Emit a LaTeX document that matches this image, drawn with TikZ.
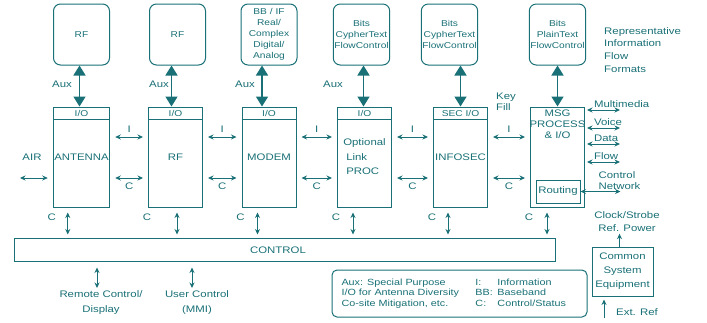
\documentclass[tikz,border=0pt]{standalone}
\usepackage{fontspec}
\setmainfont[FakeStretch=1.2]{Liberation Sans}
\usetikzlibrary{arrows.meta,positioning}
\definecolor{ink}{RGB}{25,112,118}

\begin{document}
\begin{tikzpicture}[
  x=1pt, y=-1pt,
  every node/.style={text=ink, font=\fontsize{9.5}{11}\selectfont},
  fmt/.style={rectangle, rounded corners=7pt, draw=ink, line width=1pt,
    minimum width=56pt, minimum height=61pt, align=center, inner sep=1pt,
    font=\fontsize{8.5}{11}\selectfont},
  blk/.style={rectangle, draw=ink, line width=1pt,
    minimum width=54pt, minimum height=100pt, align=center, inner sep=1pt},
  box/.style={rectangle, draw=ink, line width=1pt, align=center, inner sep=1pt},
  bigarr/.style={{Triangle[length=10pt,width=12pt]}-{Triangle[length=10pt,width=12pt]},
    line width=1.6pt, draw=ink},
  harr/.style={{Stealth[length=5.5pt,width=5pt]}-{Stealth[length=5.5pt,width=5pt]},
    draw=ink, line width=0.8pt, shorten <=5pt, shorten >=5pt},
  varr/.style={harr, shorten <=5pt, shorten >=3pt},
  uparr/.style={-{Stealth[length=5.5pt,width=5pt]}, draw=ink, line width=0.8pt},
  lbl/.style={inner sep=1pt}
]
\useasboundingbox (0,0) rectangle (707,322);

% Processing chain
\node[blk] (b1) at (81.5,157) {ANTENNA};
\node[blk] (b2) at (175.5,157) {RF};
\node[blk] (b3) at (269,157) {MODEM};
\node[blk, align=left, font=\fontsize{9.5}{14.5}\selectfont] (b4) at (364.5,157)
  {Optional\\\hspace*{3pt}Link\\\hspace*{3pt}PROC};
\node[blk] (b5) at (460.5,157) {INFOSEC};
\node[blk] (b6) at (557.5,157) {};
\node[lbl, anchor=north, align=center] (msg) at ([yshift=-2pt]b6.north) {MSG\\PROCESS\\\& I/O};
\node[box, minimum width=44pt, minimum height=23pt, inner sep=0pt] (rt) at (558,191.5) {Routing};

% I/O header strips
\foreach \b in {b1,b2,b3,b4,b5}
  \draw[draw=ink, line width=1pt] ([yshift=-13pt]\b.north west) -- ([yshift=-13pt]\b.north east);
\foreach \b in {b1,b2,b3,b4}
  \node[lbl, font=\fontsize{8.5}{9}\selectfont] (\b io) at ([yshift=-6.5pt]\b.north) {I/O};
\node[lbl, font=\fontsize{8.5}{9}\selectfont] (b5io) at ([yshift=-6.5pt]b5.north) {SEC I/O};

% Information flow formats
\node[fmt, above=41pt of b1] (f1) {RF};
\node[fmt, above=41pt of b2, xshift=2pt] (f2) {RF};
\node[fmt, above=41pt of b3] (f3) {BB / IF\\Real/\\Complex\\Digital/\\Analog};
\node[fmt, above=41pt of b4, xshift=-3pt] (f4) {Bits\\CypherText\\FlowControl};
\node[fmt, above=41pt of b5, xshift=-11pt] (f5) {Bits\\CypherText\\FlowControl};
\node[fmt, above=41pt of b6] (f6) {Bits\\PlainText\\FlowControl};

\foreach \n/\d in {1/-2,2/-4,3/-7,4/-1,5/0,6/0}
  \draw[bigarr] ([xshift=\d pt]b\n.north |- f\n.south) -- ([xshift=\d pt]b\n.north);

\node[lbl] (aux1) at (62,84) {Aux};
\node[lbl] (aux2) at (159,84) {Aux};
\node[lbl] (aux3) at (245,84) {Aux};
\node[lbl] (aux4) at (333,84) {Aux};

\node[lbl, anchor=north west, align=left, font=\fontsize{9.5}{12.7}\selectfont] (rep) at (603,26)
  {Representative\\Information\\Flow\\Formats};

% I and C links between blocks
\foreach \a/\b in {b1/b2,b2/b3,b3/b4,b4/b5,b5/b6} {
  \draw[harr] ([yshift=20pt]\a.east) -- node[lbl, above=3pt] (i\a) {I} ([yshift=20pt]\b.west);
  \draw[harr] ([yshift=-21pt]\a.east) -- node[lbl, below=3pt] (c\a) {C} ([yshift=-21pt]\b.west);
}
\node[lbl, anchor=west, align=left] (key) at (495,102) {Key\\Fill};

\coordinate (air) at (20,178);
\draw[harr, shorten <=0pt] (air) -- ([yshift=-21pt]b1.west);
\node[lbl] (airlbl) at (32,157) {AIR};

% MSG outputs
\foreach \dy/\t in {47/Multimedia,29/Voice,13/Data,-5/Flow}
  \draw[harr, shorten <=2pt, shorten >=0pt] ([yshift=\dy pt]b6.east) -- node[lbl, pos=0.2, above right=1pt] (o\t) {\t} ++(35pt,0);
\draw[harr, shorten <=0pt, shorten >=0pt] (rt.east) -- node[lbl, pos=0.4, above right=1pt, align=left] (onet) {Control\\Network} ++(40pt,0);

% Control bus
\node[box, minimum width=541pt, minimum height=23pt] (ctrl) at (284.5,249.5) {};
\node[lbl] (ctrltxt) at (278,250) {CONTROL};

\foreach \n/\d in {1/15,2/29,3/16,4/16,5/15,6/17} {
  \draw[varr] ([xshift=\d pt]b\n.south west) -- ([xshift=\d pt]b\n.south west |- ctrl.north);
  \node[lbl] (cc\n) at ([shift={(-1pt,-10pt)}]b\n.south west) {C};
}

\coordinate (rc) at (97,288);
\coordinate (uc) at (192,288);
\draw[harr, shorten <=6pt, shorten >=0pt] (rc |- ctrl.south) -- (rc);
\draw[harr, shorten <=6pt, shorten >=0pt] (uc |- ctrl.south) -- (uc);
\node[lbl, below=1pt of rc, xshift=4pt, align=center, font=\fontsize{9.5}{15}\selectfont] (rclbl) {Remote Control/\\Display};
\node[lbl, below=1pt of uc, xshift=5pt, align=center, font=\fontsize{9.5}{15}\selectfont] (uclbl) {User Control\\(MMI)};

% Legend
\node[box, rounded corners=5pt, minimum width=255pt, minimum height=47pt, font=\fontsize{9}{10.5}\selectfont] (legend) at (459.5,293.5)
  {\begin{tabular}{@{}p{134pt}@{}p{22pt}@{}p{80pt}@{}}
   Aux: Special Purpose & I: & Information\\
   I/O for Antenna Diversity & BB: & Baseband\\
   Co-site Mitigation, etc. & C: & Control/Status
   \end{tabular}};

% Common equipment
\node[box, minimum width=61pt, minimum height=49pt, font=\fontsize{9.5}{14}\selectfont] (cse) at (622.5,271.5) {Common\\System\\Equipment};
\node[lbl, align=center, font=\fontsize{9.5}{13}\selectfont] (clk) at (627,221.5) {Clock/Strobe\\Ref. Power};
\draw[uparr, shorten >=1pt] ([xshift=-3pt]cse.north) -- ([xshift=-3pt]cse.north |- clk.south);
\coordinate (ext) at (604,318);
\draw[uparr, shorten >=3pt] (ext) -- (ext |- cse.south);
\node[lbl] (extlbl) at (637,312) {Ext. Ref};

\end{tikzpicture}
\end{document}
